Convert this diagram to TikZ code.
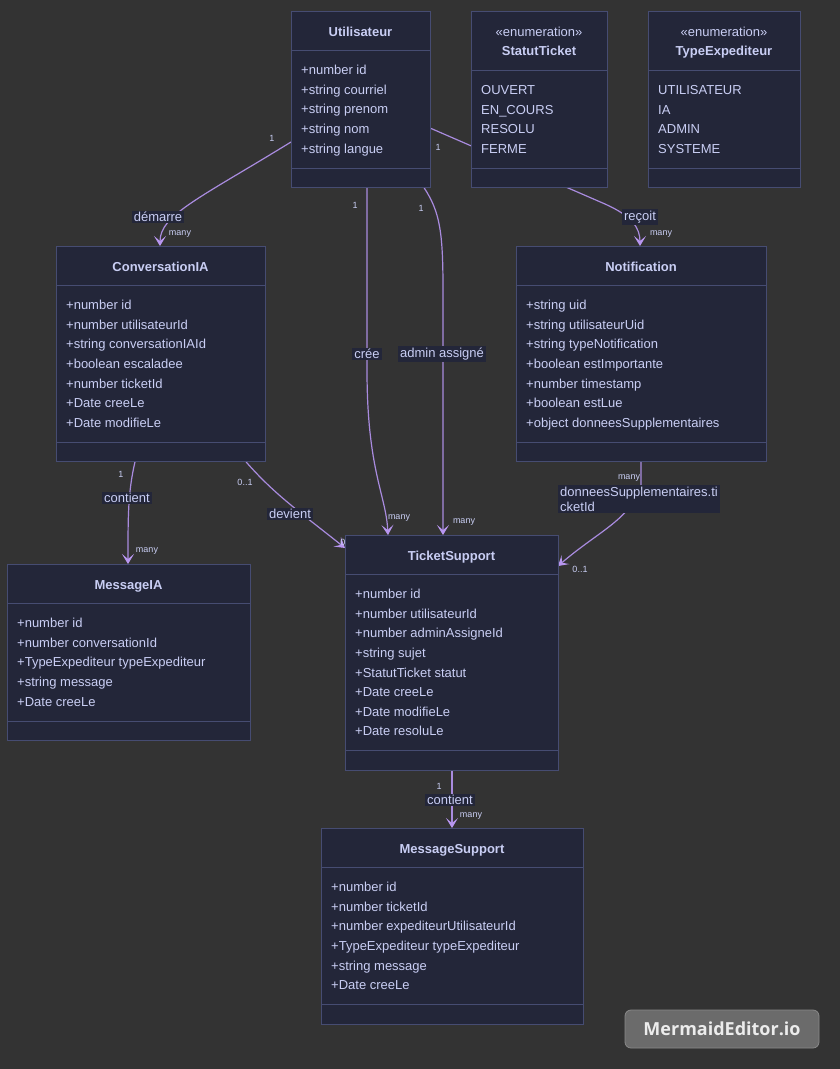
\documentclass[tikz,border=0pt]{standalone}
\usepackage{fontspec}
\setmainfont{Liberation Sans}
\newfontfamily\wmfont{Open Sans}
\usetikzlibrary{arrows.meta,calc}
\definecolor{bgc}{HTML}{333333}
\definecolor{boxfill}{HTML}{232639}
\definecolor{boxline}{HTML}{464C72}
\definecolor{textc}{HTML}{C9CEF4}
\definecolor{edgec}{HTML}{A98BDF}
\definecolor{arrowc}{HTML}{B896F0}
\definecolor{wmfill}{HTML}{6B6B6B}
\definecolor{wmline}{HTML}{8A8A8A}
\definecolor{wmtext}{HTML}{ECECEC}
\pgfdeclarelayer{bglayer}
\pgfdeclarelayer{edgelayer}
\pgfsetlayers{bglayer,edgelayer,main}

\tikzset{
  umlbox/.style={draw=boxline, fill=boxfill, line width=1pt, inner sep=0pt, outer sep=0pt},
  divider/.style={draw=boxline, line width=1pt},
  ctitle/.style={text=textc, font=\fontsize{13}{15}\selectfont\bfseries, inner sep=0pt, text height=9.5pt, text depth=2.5pt},
  stereo/.style={text=textc, font=\fontsize{13}{15}\selectfont, inner sep=0pt, text height=9.5pt, text depth=2.5pt},
  attr/.style={text=textc, font=\fontsize{13}{15}\selectfont, inner sep=0pt, anchor=west, text height=9.5pt, text depth=2.5pt},
  edge/.style={draw=edgec, line width=1.2pt, -{Stealth[length=10pt,width=12pt,inset=5pt,fill=arrowc,color=arrowc,line width=1pt]}},
  elabel/.style={fill=boxfill, text=textc, font=\fontsize{13}{15}\selectfont, inner xsep=2pt, inner ysep=1.5pt},
  card/.style={text=textc, font=\fontsize{9}{10}\selectfont, inner sep=0pt},
}

% #1 name, #2 x, #3 y, #4 width, #5 number of attributes, #6 title, #7 attributes
\newcommand\classbox[7]{%
  \pgfmathsetmacro\bxh{78.6+19.6*#5}%
  \pgfmathsetmacro\bxd{59+19.6*#5}%
  \node[umlbox, minimum width=#4pt, minimum height=\bxh pt, anchor=north west] (#1) at (#2,#3) {};
  \draw[divider] ([yshift=-39pt]#1.north west) -- ([yshift=-39pt]#1.north east);
  \draw[divider] ([yshift=-\bxd pt]#1.north west) -- ([yshift=-\bxd pt]#1.north east);
  \node[ctitle] at ([yshift=-21.5pt]#1.north) {#6};
  \foreach \t [count=\i] in {#7} {%
    \pgfmathsetmacro\yy{40.5+19.6*\i}%
    \node[attr] at ([xshift=10pt,yshift=-\yy pt]#1.north west) {\t};
  }
}
% #1 name, #2 x, #3 y, #4 width, #5 title, #6 values (4)
\newcommand\enumbox[6]{%
  \node[umlbox, minimum width=#4pt, minimum height=176.4pt, anchor=north west] (#1) at (#2,#3) {};
  \draw[divider] ([yshift=-59pt]#1.north west) -- ([yshift=-59pt]#1.north east);
  \draw[divider] ([yshift=-157.4pt]#1.north west) -- ([yshift=-157.4pt]#1.north east);
  \node[stereo] at ([yshift=-21.5pt]#1.north) {«enumeration»};
  \node[ctitle] at ([yshift=-40.5pt]#1.north) {#5};
  \foreach \t [count=\i] in {#6} {%
    \pgfmathsetmacro\yy{60.5+19.6*\i}%
    \node[attr] at ([xshift=10pt,yshift=-\yy pt]#1.north west) {\t};
  }
}

\begin{document}
\begin{tikzpicture}[x=1pt,y=-1pt]
\useasboundingbox (0,0) rectangle (840,1069);
\begin{pgfonlayer}{bglayer}
  \fill[bgc] (0,0) rectangle (840,1069);
\end{pgfonlayer}

% classes
\classbox{u}{291}{11}{139}{5}{Utilisateur}{+number id,+string courriel,+string prenom,+string nom,+string langue}
\enumbox{statut}{471}{11}{136}{StatutTicket}{OUVERT,EN\_COURS,RESOLU,FERME}
\enumbox{typeexp}{648}{11}{152}{TypeExpediteur}{UTILISATEUR,IA,ADMIN,SYSTEME}
\classbox{conv}{56}{246}{209}{7}{ConversationIA}{+number id,+number utilisateurId,+string conversationIAId,+boolean escaladee,+number ticketId,+Date creeLe,+Date modifieLe}
\classbox{notif}{516}{246}{250}{7}{Notification}{+string uid,+string utilisateurUid,+string typeNotification,+boolean estImportante,+number timestamp,+boolean estLue,+object donneesSupplementaires}
\classbox{msgia}{7}{564}{243}{5}{MessageIA}{+number id,+number conversationId,+TypeExpediteur typeExpediteur,+string message,+Date creeLe}
\classbox{ticket}{345}{535}{213}{8}{TicketSupport}{+number id,+number utilisateurId,+number adminAssigneId,+string sujet,+StatutTicket statut,+Date creeLe,+Date modifieLe,+Date resoluLe}
\classbox{msgsup}{321}{828}{262}{6}{MessageSupport}{+number id,+number ticketId,+number expediteurUtilisateurId,+TypeExpediteur typeExpediteur,+string message,+Date creeLe}

% connectors
\begin{pgfonlayer}{edgelayer}
  \draw[edge] ($(u.north west)+(0,131)$) .. controls (200,198) and (160,215) .. ($(conv.north west)+(104,0)$);
  \draw[edge] ($(u.north east)+(0,117)$) -- (605,204) .. controls (632,216) and (640,228) .. ($(notif.north west)+(124,0)$);
  \draw[edge] ($(u.south west)+(76,0)$) -- (367,370) .. controls (367,470) and (386,495) .. ($(ticket.north west)+(43,0)$);
  \draw[edge] ($(u.south west)+(133,0)$) .. controls (440,212) and (443,232) .. (443,290) -- ($(ticket.north west)+(98,0)$);
  \draw[edge] ($(conv.south west)+(79,0)$) .. controls (128,492) and (128,515) .. ($(msgia.north west)+(121,0)$);
  \draw[edge] ($(conv.south west)+(190,0)$) .. controls (275,495) and (300,512) .. ($(ticket.north west)+(0,13)$);
  \draw[edge] ($(notif.south west)+(125,0)$) -- (641,485) .. controls (630,520) and (600,530) .. ($(ticket.north east)+(0,31)$);
  \draw[edge] ($(ticket.south west)+(107,0)$) -- ($(msgsup.north west)+(131,0)$);
  \node[card] (c6b) at (348,542) {0..1};
\end{pgfonlayer}

% connector labels
\node[elabel] (l1) at (158,217) {démarre};
\node[elabel] (l2) at (640,217) {reçoit};
\node[elabel] (l3) at (367,354) {crée};
\node[elabel] (l4) at (442,354) {admin assigné};
\node[elabel] (l5) at (127,498) {contient};
\node[elabel] (l6) at (290,514) {devient};
\node[elabel, align=left] (l7) at (639,499) {donneesSupplementaires.ti\\cketId};
\node[elabel] (l8) at (450,800) {contient};

% cardinalities
\node[card] (c1a) at (272,138) {1};
\node[card] (c1b) at (180,234) {many};
\node[card] (c2a) at (438,147) {1};
\node[card] (c2b) at (661,234) {many};
\node[card] (c3a) at (355,205) {1};
\node[card] (c3b) at (399,518) {many};
\node[card] (c4a) at (421,208) {1};
\node[card] (c4b) at (464,522) {many};
\node[card] (c5a) at (121,474) {1};
\node[card] (c5b) at (147,551) {many};
\node[card] (c6a) at (245,482) {0..1};
\node[card] (c7a) at (629,478) {many};
\node[card] (c7b) at (580,569) {0..1};
\node[card] (c8a) at (439,786) {1};
\node[card] (c8b) at (471,816) {many};

% watermark
\node[draw=wmline, fill=wmfill, rounded corners=6pt, line width=0.8pt, minimum width=194pt, minimum height=38pt, text=wmtext, font=\wmfont\fontsize{18}{20}\selectfont\bfseries] (wm) at (722,1029) {MermaidEditor.io};
\end{tikzpicture}
\end{document}
